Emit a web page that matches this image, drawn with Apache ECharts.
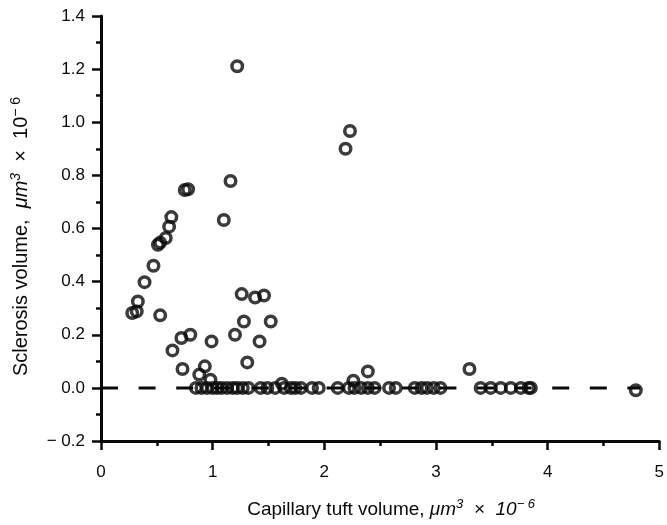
<!DOCTYPE html>
<html>
<head>
<meta charset="UTF-8">
<title>Sclerosis vs capillary tuft volume</title>
<script src="https://cdn.jsdelivr.net/npm/echarts@6/dist/echarts.min.js"></script>
<style>
body {
	margin: 0;
	background: #fff;
}

#main {
	width: 667px;
	height: 525px;
}
</style>
</head>
<body>
	<div id="main"></div>
	<script>
		// glomeruli with some sclerosis: tuft volume / sclerosis volume
		var tuftVolume = [ 0.28, 0.32, 0.33, 0.39, 0.47, 0.51, 0.53, 0.58, 0.61, 0.63,
				0.75, 0.78, 1.10, 1.16, 1.22, 2.19, 2.23, 0.53, 0.64, 0.72, 0.80,
				0.73, 0.93, 0.88, 0.99, 0.98, 1.26, 1.38, 1.46, 1.28, 1.20, 1.52,
				1.42, 1.31, 1.62, 2.39, 2.26, 3.30, 4.79 ];
		var sclerosisVolume = [ 0.282, 0.288, 0.325, 0.398, 0.46, 0.539, 0.547, 0.564,
				0.607, 0.643, 0.745, 0.748, 0.632, 0.779, 1.211, 0.90, 0.967, 0.273,
				0.141, 0.188, 0.20, 0.071, 0.081, 0.05, 0.175, 0.031, 0.353, 0.34,
				0.348, 0.25, 0.20, 0.25, 0.175, 0.096, 0.016, 0.062, 0.027, 0.071,
				-0.009 ];
		// glomeruli without sclerosis (sclerosis volume 0)
		var tuftNoSclerosis = [ 0.85, 0.90, 0.95, 1.00, 1.04, 1.08, 1.13, 1.18, 1.22,
				1.27, 1.32, 1.43, 1.49, 1.56, 1.64, 1.70, 1.74, 1.79, 1.89, 1.95,
				2.12, 2.22, 2.27, 2.33, 2.39, 2.45, 2.58, 2.64, 2.81, 2.87, 2.92,
				2.98, 3.04, 3.40, 3.49, 3.58, 3.67, 3.76, 3.83, 3.85 ];
		// dashed zero line
		var zeroLineX = [ 0, 4.83 ];

		var points = [];
		for (var i = 0; i < tuftVolume.length; i++) {
			points.push([ tuftVolume[i], sclerosisVolume[i] ]);
		}
		for (var j = 0; j < tuftNoSclerosis.length; j++) {
			points.push([ tuftNoSclerosis[j], 0 ]);
		}

		var ink = '#0a0a0a';
		var font = 'Liberation Sans, Arial, sans-serif';

		// rich text styles for the axis names (italic units, superscripts)
		function nameRich(size) {
			var sup = Math.round(size * 0.68);
			return {
				n : {
					fontSize : size,
					fontFamily : font,
					color : ink,
					lineHeight : 24
				},
				i : {
					fontStyle : 'italic',
					fontSize : size,
					fontFamily : font,
					color : ink,
					lineHeight : 24
				},
				sup : {
					fontSize : sup,
					fontFamily : font,
					verticalAlign : 'top',
					lineHeight : 24,
					color : ink
				},
				isup : {
					fontStyle : 'italic',
					fontSize : sup,
					fontFamily : font,
					verticalAlign : 'top',
					lineHeight : 24,
					color : ink
				}
			};
		}

		function axisStyle() {
			return {
				axisLine : {
					show : true,
					onZero : false,
					lineStyle : {
						color : ink,
						width : 3
					}
				},
				axisTick : {
					show : true,
					length : 9,
					lineStyle : {
						color : ink,
						width : 2.5
					}
				},
				minorTick : {
					show : true,
					splitNumber : 2,
					length : 5,
					lineStyle : {
						color : ink,
						width : 2.5
					}
				},
				splitLine : {
					show : false
				}
			};
		}

		var xAxis = axisStyle();
		xAxis.type = 'value';
		xAxis.min = 0;
		xAxis.max = 5;
		xAxis.interval = 1;
		xAxis.name = '{n|Capillary tuft volume, }{i|μm}{isup|3}{n|  ×  }{i|10}{isup|− 6}';
		xAxis.nameLocation = 'middle';
		xAxis.nameGap = 57;
		xAxis.nameTextStyle = {
			rich : nameRich(19),
			padding : [ 0, 0, 0, 22 ]
		};
		xAxis.axisLabel = {
			margin : 23,
			fontSize : 17,
			fontFamily : font,
			color : ink
		};

		var yAxis = axisStyle();
		yAxis.type = 'value';
		yAxis.min = -0.2;
		yAxis.max = 1.4;
		yAxis.interval = 0.2;
		yAxis.name = '{n|Sclerosis volume,  }{i|μm}{isup|3}{n|  ×  10}{sup|− 6}';
		yAxis.nameLocation = 'middle';
		yAxis.nameGap = 68;
		yAxis.nameTextStyle = {
			rich : nameRich(20),
			padding : [ 0, 16, 0, 0 ]
		};
		yAxis.axisLabel = {
			margin : 16,
			fontSize : 17,
			fontFamily : font,
			color : ink,
			formatter : function(v) {
				var s = Math.abs(v).toFixed(1);
				return v < -1e-9 ? '− ' + s : s;
			}
		};

		var option = {
			animation : false,
			backgroundColor : '#fff',
			grid : {
				left : 101,
				right : 4,
				top : 16,
				bottom : 84
			},
			xAxis : xAxis,
			yAxis : yAxis,
			series : [ {
				type : 'line',
				data : [ [ zeroLineX[0], 0 ], [ zeroLineX[1], 0 ] ],
				symbol : 'none',
				silent : true,
				z : 1,
				lineStyle : {
					color : ink,
					width : 3,
					type : [ 17, 20.6 ]
				}
			}, {
				type : 'scatter',
				data : points,
				symbol : 'circle',
				symbolSize : 10.5,
				z : 2,
				itemStyle : {
					color : 'rgba(0,0,0,0)',
					borderColor : ink,
					borderWidth : 3.5
				}
			} ]
		};

		var mychart = echarts.init(document.getElementById('main'));
		mychart.setOption(option);
	</script>
</body>
</html>
